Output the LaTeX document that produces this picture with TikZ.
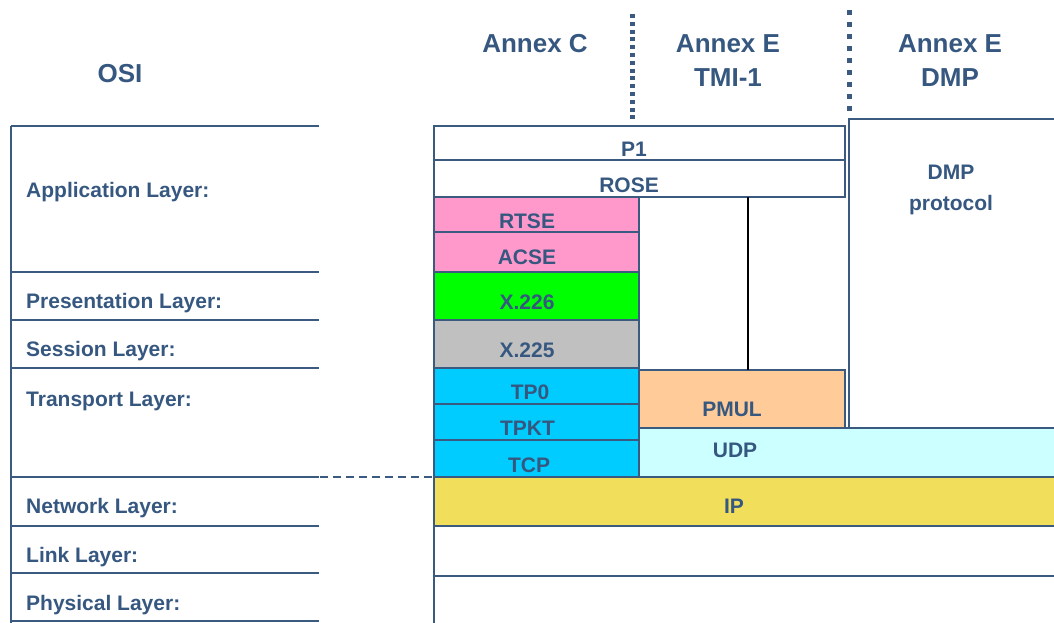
\documentclass[tikz,border=0pt]{standalone}
\usepackage{fontspec}
\setmainfont{Liberation Sans}
\usetikzlibrary{calc}
\definecolor{LineClr}{RGB}{58,90,128}
\definecolor{TextClr}{RGB}{54,88,128}
\definecolor{PinkClr}{RGB}{255,153,204}
\definecolor{GreenClr}{RGB}{0,255,0}
\definecolor{GreyClr}{RGB}{192,192,192}
\definecolor{CyanClr}{RGB}{0,204,255}
\definecolor{PeachClr}{RGB}{255,204,153}
\definecolor{IceClr}{RGB}{204,255,255}
\definecolor{IpClr}{RGB}{241,222,90}

\tikzset{
  blk/.style={draw=LineClr, line width=2pt, inner sep=0pt, outer sep=0pt, anchor=north west},
  lbl/.style={text=TextClr, font=\bfseries\fontsize{21}{24}\selectfont, inner sep=0pt, anchor=base},
  osilbl/.style={lbl, anchor=base west},
  head/.style={text=TextClr, font=\bfseries\fontsize{26}{34}\selectfont, inner sep=0pt, align=center, anchor=base},
  osiline/.style={draw=LineClr, line width=2pt},
  annexsep/.style={draw=LineClr, line width=5pt},
}

\begin{document}
\begin{tikzpicture}[x=1pt,y=-1pt]
\useasboundingbox (0,0) rectangle (1054,623);
\clip (0,0) rectangle (1054,623);

% headings (two-line nodes sit on their last baseline)
\node[head] (osi) at (120,83) {OSI};
\node[head] (annexc) at (535,53) {Annex C};
\node[head] (annextmi) at (728,87) {Annex E\\TMI-1};
\node[head] (annexdmp) at (950,87) {Annex E\\DMP};

\draw[annexsep, dash pattern=on 4pt off 3.8pt] (632,14) -- (632,121);
\draw[annexsep, dash pattern=on 5pt off 7pt] (849,10) -- (849,112);

% OSI reference table
\draw[osiline] (11,126) -- (11,630);
\foreach \yy in {126,272,320,368,477,526,573,621}
  \draw[osiline] (11,\yy) -- (319,\yy);

\node[osilbl] (appl) at (26,197) {Application Layer:};
\node[osilbl] (pres) at (26,308) {Presentation Layer:};
\node[osilbl] (sess) at (26,356.5) {Session Layer:};
\node[osilbl] (trans) at (26,406) {Transport Layer:};
\node[osilbl] (netw) at (26,513) {Network Layer:};
\node[osilbl] (link) at (26,562) {Link Layer:};
\node[osilbl] (phys) at (26,610) {Physical Layer:};

% DMP column
\node[blk, fill=white, minimum width=260pt, minimum height=309pt] (dmp) at (849,119) {};
\node[lbl, align=center, font=\bfseries\fontsize{21}{31}\selectfont] (dmpt) at (951,210) {DMP\\protocol};

% Annex C / TMI-1 stack
\node[blk, minimum width=411pt, minimum height=34pt] (p1) at (434,126) {};
\node[lbl] (p1t) at (634,157) {P1};
\node[blk, minimum width=411pt, minimum height=37pt] (rose) at (434,160) {};
\node[lbl] (roset) at (629,192) {ROSE};

\node[blk, fill=PinkClr, minimum width=205pt, minimum height=35pt] (rtse) at (434,197) {};
\node[lbl] (rtset) at (527,228) {RTSE};
\node[blk, fill=PinkClr, minimum width=205pt, minimum height=40pt] (acse) at (434,232) {};
\node[lbl] (acset) at (527,264) {ACSE};
\node[blk, fill=GreenClr, minimum width=205pt, minimum height=48pt] (x226) at (434,272) {};
\node[lbl] (x226t) at (527,309) {X.226};
\node[blk, fill=GreyClr, minimum width=205pt, minimum height=48pt] (x225) at (434,320) {};
\node[lbl] (x225t) at (527,357) {X.225};

\node[blk, fill=CyanClr, minimum width=205pt, minimum height=36pt] (tp0) at (434,368) {};
\node[lbl] (tp0t) at (530,399) {TP0};
\node[blk, fill=CyanClr, minimum width=205pt, minimum height=36pt] (tpkt) at (434,404) {};
\node[lbl] (tpktt) at (527.5,435) {TPKT};
\node[blk, fill=CyanClr, minimum width=205pt, minimum height=37pt] (tcp) at (434,440) {};
\node[lbl] (tcpt) at (529,472) {TCP};

\node[blk, fill=PeachClr, minimum width=206pt, minimum height=58pt] (pmul) at (639,370) {};
\node[lbl] (pmult) at (732,416) {PMUL};
\node[blk, fill=IceClr, minimum width=470pt, minimum height=49pt] (udp) at (639,428) {};
\node[lbl] (udpt) at (735,457) {UDP};

\node[blk, fill=IpClr, minimum width=700pt, minimum height=49pt] (ip) at (434,477) {};
\node[lbl] (ipt) at (734,513) {IP};
\node[blk, minimum width=700pt, minimum height=50pt] (lnk) at (434,526) {};
\node[blk, minimum width=700pt, minimum height=60pt] (phy) at (434,576) {};

% ROSE over UDP
\coordinate (roseleg) at (748,197);
\draw[black, line width=1.5pt] (roseleg) -- (roseleg |- pmul.north);

% network boundary
\coordinate (osidash) at (320,477);
\draw[draw=LineClr, line width=1.3pt, dash pattern=on 8pt off 5pt] (osidash) -- (ip.north west);

\end{tikzpicture}
\end{document}
